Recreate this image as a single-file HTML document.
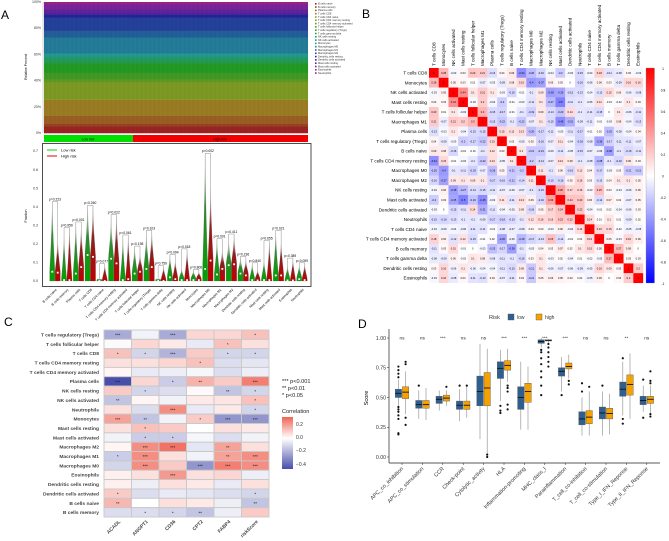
<!DOCTYPE html>
<html><head><meta charset="utf-8"><style>
body{margin:0;background:#fff}
svg{display:block;font-family:"Liberation Sans",sans-serif}
</style></head><body>
<svg id="fig" width="669" height="541" viewBox="0 0 669 541" xmlns="http://www.w3.org/2000/svg">
<text x="1" y="19" font-size="12">A</text>
<text x="362" y="18" font-size="12">B</text>
<text x="4" y="326" font-size="12">C</text>
<text x="358" y="328" font-size="12">D</text>
<g id="A"></g><g id="B"></g><g id="C"></g><g id="D"></g>
</svg>
<script>
const NS="http://www.w3.org/2000/svg";
function mk(p,t,a,txt){const e=document.createElementNS(NS,t);for(const k in a)e.setAttribute(k,a[k]);if(txt!==undefined)e.textContent=txt;p.appendChild(e);return e;}
// ---------- Panel A data ----------
const cellTypes=["B cells naive","B cells memory","Plasma cells","T cells CD8","T cells CD4 naive","T cells CD4 memory resting","T cells CD4 memory activated","T cells follicular helper","T cells regulatory (Tregs)","T cells gamma delta","NK cells resting","NK cells activated","Monocytes","Macrophages M0","Macrophages M1","Macrophages M2","Dendritic cells resting","Dendritic cells activated","Mast cells resting","Mast cells activated","Eosinophils","Neutrophils"];
const meanFrac=[0.05,0.02,0.06,0.12,0.005,0.13,0.02,0.05,0.07,0.01,0.03,0.02,0.015,0.12,0.05,0.1,0.02,0.01,0.03,0.04,0.005,0.01];
const pVals=["0.223","0.959","0.001","0.260","0.077","0.022","0.061","0.198","0.103","0.759","0.094","0.018","0.806","0.002","0.001","0.411","0.236","0.840","0.655","0.021","0.389","0.059"];
const lowMax=[0.42,0.24,0.31,0.40,0.01,0.33,0.23,0.18,0.25,0.01,0.135,0.065,0.055,0.68,0.22,0.215,0.125,0.09,0.11,0.265,0.08,0.085];
const highMax=[0.22,0.28,0.29,0.40,0.085,0.35,0.24,0.145,0.265,0.075,0.11,0.165,0.05,0.5,0.165,0.245,0.115,0.06,0.21,0.215,0.115,0.09];
const lowMed=[0.05,0.005,0.04,0.14,0,0.12,0.005,0.04,0.065,0,0.02,0.005,0.005,0.065,0.035,0.085,0.04,0.005,0.005,0.03,0.003,0.01];
const highMed=[0.045,0.005,0.075,0.13,0,0.095,0.01,0.05,0.075,0,0.01,0.005,0.005,0.11,0.065,0.09,0.03,0.003,0.005,0.03,0.003,0.005];
// ---------- Panel B data ----------
const bNames=["T cells CD8","Monocytes","NK cells activated","Mast cells resting","T cells follicular helper","Macrophages M1","Plasma cells","T cells regulatory (Tregs)","B cells naive","T cells CD4 memory resting","Macrophages M0","Macrophages M2","NK cells resting","Mast cells activated","Dendritic cells activated","Neutrophils","T cells CD4 naive","T cells CD4 memory activated","B cells memory","T cells gamma delta","Dendritic cells resting","Eosinophils"];
const corrB=[
[1,0.28,-0.03,0.03,0.23,0.21,-0.13,0.04,0.09,-0.44,-0.26,-0.16,-0.04,-0.2,-0.03,-0.15,-0.04,0.18,-0.11,-0.08,0.03,-0.03],
[0.28,1,0.05,0.03,0.01,-0.07,-0.03,-0.09,0.08,0.15,-0.4,-0.37,0.06,0.03,0,-0.16,-0.06,0.06,0.03,-0.09,0.16,0.16],
[-0.03,0.05,1,0.44,0.1,0.21,0.1,-0.03,-0.16,-0.01,-0.1,0.09,-0.38,-0.35,-0.15,-0.13,-0.04,-0.12,0.15,0.06,-0.06,-0.08],
[0.03,0.03,0.44,1,-0.03,0.2,-0.04,-0.2,-0.01,-0.03,-0.11,0.1,-0.27,-0.5,-0.11,-0.1,-0.06,0.12,-0.01,-0.02,0.1,0.03],
[0.23,0.01,0.1,-0.03,1,0.3,-0.15,-0.17,-0.01,-0.1,-0.19,0.09,-0.14,-0.23,0.14,-0.1,-0.11,-0.15,0,0.1,-0.06,-0.11],
[0.21,-0.07,0.21,0.2,0.3,1,-0.15,-0.22,-0.1,-0.22,-0.07,0.1,-0.15,-0.45,-0.31,-0.09,-0.11,-0.01,-0.03,0.08,-0.04,-0.13],
[-0.13,-0.03,0.1,-0.04,-0.15,-0.15,1,0.15,0.12,0.13,-0.26,-0.17,-0.11,-0.03,-0.11,-0.17,-0.01,0.02,-0.25,-0.08,-0.04,0.04],
[0.04,-0.09,-0.03,-0.2,-0.17,-0.22,0.15,1,0.03,-0.05,0.05,-0.16,-0.07,0.11,-0.04,-0.18,-0.08,-0.36,-0.17,-0.11,-0.11,-0.07],
[0.09,0.08,-0.16,-0.01,-0.01,-0.1,0.12,0.03,1,0.1,-0.21,-0.21,-0.06,-0.11,-0.05,-0.15,-0.07,-0.06,-0.38,-0.1,-0.15,-0.11],
[-0.44,0.15,-0.01,-0.03,-0.1,-0.22,0.13,-0.05,0.1,1,-0.2,-0.14,-0.07,0.13,0.09,-0.1,-0.08,-0.28,-0.1,-0.16,0.09,0.03],
[-0.26,-0.4,-0.1,-0.11,-0.19,-0.07,-0.26,0.05,-0.21,-0.2,1,0.11,-0.1,0.06,-0.16,0.12,0.04,-0.17,-0.03,0.03,-0.21,-0.21],
[-0.16,-0.37,0.09,0.1,0.09,0.1,-0.17,-0.16,-0.21,-0.14,0.11,1,-0.15,-0.16,0.05,0.16,0.03,-0.13,0.04,0.1,0.1,0.05],
[-0.04,0.06,-0.38,-0.27,-0.14,-0.15,-0.11,-0.07,-0.06,-0.07,-0.1,-0.15,1,0.36,0.17,0.16,-0.03,0.25,0.03,-0.03,-0.06,0.06],
[-0.2,0.03,-0.35,-0.5,-0.23,-0.45,-0.03,0.11,-0.11,0.13,0.06,-0.16,0.36,1,0.24,0.23,0.06,-0.14,0.07,0.02,-0.07,0.05],
[-0.03,0,-0.15,-0.11,0.14,-0.31,-0.11,-0.04,-0.05,0.09,-0.16,0.05,0.17,0.24,1,0.22,-0.04,-0.01,0.02,-0.04,-0.06,0.03],
[-0.15,-0.16,-0.13,-0.1,-0.1,-0.09,-0.17,-0.18,-0.15,-0.1,0.12,0.16,0.16,0.23,0.22,1,0.14,0.01,0.1,0.01,-0.09,0.02],
[-0.04,-0.06,-0.04,-0.06,-0.11,-0.11,-0.01,-0.08,-0.07,-0.08,0.04,0.03,-0.03,0.06,-0.04,0.14,1,0.16,0.15,-0.02,-0.05,-0.05],
[0.18,0.06,-0.12,0.12,-0.15,-0.01,0.02,-0.36,-0.06,-0.28,-0.17,-0.13,0.25,-0.14,-0.01,0.01,0.16,1,0.05,-0.03,0.16,0.06],
[-0.11,0.03,0.15,-0.01,0,-0.03,-0.25,-0.17,-0.38,-0.1,-0.03,0.04,0.03,0.07,0.02,0.1,0.15,0.05,1,0.27,0.09,0],
[-0.08,-0.09,0.06,-0.02,0.1,0.08,-0.08,-0.11,-0.1,-0.16,0.03,0.1,-0.03,0.02,-0.04,0.01,-0.02,-0.03,0.27,1,0.03,0.03],
[0.03,0.16,-0.06,0.1,-0.06,-0.04,-0.04,-0.11,-0.15,0.09,-0.21,0.1,-0.06,-0.07,-0.06,-0.09,-0.05,0.16,0.09,0.03,1,0.2],
[-0.03,0.16,-0.08,0.03,-0.11,-0.13,0.04,-0.07,-0.11,0.03,-0.21,0.05,0.06,0.05,0.03,0.02,-0.05,0.06,0,0.03,0.2,1]];
// ---------- Panel C data ----------
const cRows=["T cells regulatory (Tregs)","T cells follicular helper","T cells CD8","T cells CD4 memory resting","T cells CD4 memory activated","Plasma cells","NK cells resting","NK cells activated","Neutrophils","Monocytes","Mast cells resting","Mast cells activated","Macrophages M2","Macrophages M1","Macrophages M0","Eosinophils","Dendritic cells resting","Dendritic cells activated","B cells naive","B cells memory"];
const cCols=["ACADL","ANGPT1","CD36","CPT2","FABP4","riskScore"];
const corrC=[[-0.2,-0.03,-0.2,0.08,0.08,0.12],[-0.01,0.08,0.04,-0.05,0.12,0.06],[0.12,-0.1,-0.18,0.1,-0.1,-0.1],[0.06,0.06,0.08,0.12,-0.08,-0.06],[0.02,-0.05,-0.04,-0.02,-0.08,-0.04],[-0.42,0.08,-0.12,0.15,0.1,0.25],[0.1,-0.1,-0.08,0.01,-0.14,-0.1],[-0.14,0.02,-0.03,0.04,0.05,0.12],[0.06,-0.08,0.22,-0.05,0.04,-0.1],[0.18,-0.14,-0.03,0.1,-0.25,-0.25],[0.06,0.12,0.1,0,0.06,0.04],[-0.03,-0.12,-0.12,-0.02,-0.08,-0.03],[0.02,0.22,0.27,-0.06,0.18,0.06],[-0.12,0.22,0.06,-0.03,0.18,0.22],[-0.1,0.22,0.1,-0.25,0.25,0.22],[0.03,0.06,0.2,0.06,0.08,-0.04],[0.03,-0.04,0.06,0.04,-0.05,0.06],[0.1,-0.08,-0.05,-0.06,-0.08,-0.1],[0.14,0,0.06,0.04,-0.04,-0.14],[-0.08,-0.08,-0.1,-0.14,-0.04,0.1]];
const starsC=[["***","","***","","","*"],["","","","","*",""],["*","*","***","","*","*"],["","","","*","",""],["","","","","",""],["***","","*","**","","***"],["","*","","","**","*"],["**","","","","","*"],["","","***","","","*"],["***","**","","*","***","***"],["","*","","","",""],["","*","*","","",""],["","***","***","","**",""],["*","***","","","**","***"],["","***","","***","***","***"],["","","***","","",""],["","","","","",""],["*","","","","","*"],["**","","","","","**"],["","*","*","**","",""]];
// ---------- Panel D data ----------
const dCats=["APC_co_inhibition","APC_co_stimulation","CCR","Check-point","Cytolytic_activity","HLA","Inflammation-promoting","MHC_class_I","Parainflammation","T_cell_co-inhibition","T_cell_co-stimulation","Type_I_IFN_Reponse","Type_II_IFN_Reponse"];
const dSig=["ns","ns","***","ns","ns","***","***","***","***","ns","ns","**","ns"];
const lowStats=[[0.43,0.50,0.535,0.57,0.65],[0.32,0.41,0.44,0.475,0.56],[0.39,0.45,0.485,0.51,0.56],[0.30,0.40,0.435,0.47,0.57],[0.15,0.43,0.55,0.68,0.95],[0.47,0.66,0.745,0.80,0.90],[0.23,0.40,0.50,0.59,0.80],[0.92,0.955,0.97,0.985,1.0],[0.55,0.68,0.72,0.75,0.84],[0.18,0.27,0.32,0.38,0.50],[0.18,0.32,0.37,0.42,0.55],[0.35,0.51,0.57,0.63,0.80],[0.38,0.44,0.475,0.51,0.60]];
const highStats=[[0.36,0.49,0.545,0.59,0.72],[0.31,0.41,0.44,0.475,0.58],[0.43,0.47,0.495,0.52,0.56],[0.33,0.40,0.435,0.47,0.59],[0.03,0.43,0.58,0.71,0.91],[0.63,0.73,0.77,0.81,0.91],[0.23,0.46,0.55,0.62,0.76],[0.96,0.975,0.98,0.985,0.99],[0.66,0.74,0.76,0.79,0.86],[0.18,0.28,0.335,0.39,0.55],[0.19,0.32,0.365,0.41,0.53],[0.32,0.52,0.61,0.69,0.87],[0.37,0.45,0.485,0.51,0.60]];
const lowOut=[[0.2,0.19,0.32,0.35,0.38,0.4,0.42,0.67,0.7,0.73,0.76],[0.6],[],[0.6],[],[0.37,0.39,0.43],[],[0.52,0.6,0.67,0.72,0.78,0.83,0.88,0.9],[0.52],[0.55,0.62],[0.6],[0.28,0.32,0.83],[0.33,0.65]];
const highOut=[[0.27,0.33,0.78,0.8],[],[0.59],[0.6],[0.0,0.02],[0.4,0.44,0.55,0.58,0.6],[],[0.76,0.8,0.84,0.88,0.92,0.95],[0.61,0.64],[0.59],[],[],[0.34,0.36,0.62,0.64,0.72]];

// ================= Panel A top (stacked) =================
const A=document.getElementById('A');
const hues=cellTypes.map((c,i)=>`hsl(${Math.round(i*330/cellTypes.length)},62%,38%)`);
const ax0=44,ax1=308,ay0=133,ay1=2;
const ayS=v=>ay0-(ay0-ay1)*v;
const tot=meanFrac.reduce((a,b)=>a+b,0);
let cum=0;
cellTypes.forEach((c,i)=>{const f=meanFrac[i]/tot;
 const r=mk(A,'rect',{x:ax0,y:ayS(cum+f),width:ax1-ax0,height:(ay0-ay1)*f+0.3,fill:hues[i]});
 cum+=f;});
// vertical sample separators
for(let x=ax0;x<ax1;x+=1.3)mk(A,'line',{x1:x,x2:x,y1:ay1,y2:ay0,stroke:'#000','stroke-opacity':0.12,'stroke-width':0.4});
["0%","20%","40%","60%","80%","100%"].forEach((t,i)=>{const e=mk(A,'text',{x:41,y:ayS(i/5)+1,'font-size':3.5,'text-anchor':'end',fill:'#333'},t);});
mk(A,'line',{x1:43,x2:43,y1:ay1,y2:ay0,stroke:'#999','stroke-width':0.4});
{const e=mk(A,'text',{x:27,y:67,'font-size':3.5,'text-anchor':'middle',transform:'rotate(-90 27 67)'},'Relative Percent');}
cellTypes.forEach((c,i)=>{mk(A,'rect',{x:315,y:3+i*3.3,width:1.6,height:1.6,fill:hues[i]});const e=mk(A,'text',{x:318,y:4.6+i*3.3,'font-size':2.6,fill:'#333'},c);});
{const r=mk(A,'rect',{x:44,y:135,width:89,height:7,fill:'#00e000'});
 const r2=mk(A,'rect',{x:133,y:135,width:175,height:7,fill:'#f00000'});
 mk(A,'text',{x:88,y:140.5,'font-size':3.5,'text-anchor':'middle'},'Low risk');mk(A,'text',{x:220,y:140.5,'font-size':3.5,'text-anchor':'middle'},'High risk');}
// ================= Panel A bottom (violins) =================
const vy=v=>281-v*185.7;
{const r=mk(A,'rect',{x:42.5,y:143.5,width:268.5,height:143,fill:'none',stroke:'#222','stroke-width':0.8});}
for(let i=0;i<=7;i++){const e=mk(A,'text',{x:38,y:vy(i/10)+1.2,'font-size':3.6,'text-anchor':'end',fill:'#333'},(i/10).toFixed(1));}
{const e=mk(A,'text',{x:27,y:216,'font-size':3.6,'text-anchor':'middle',transform:'rotate(-90 27 216)'},'Fraction');}
mk(A,'line',{x1:47,x2:57,y1:150,y2:150,stroke:'#00dd00','stroke-width':1});mk(A,'line',{x1:47,x2:57,y1:156,y2:156,stroke:'#ee0000','stroke-width':1});
mk(A,'text',{x:61,y:151.5,'font-size':4},'Low risk');mk(A,'text',{x:61,y:157.5,'font-size':4},'High risk');
const defs=mk(A,'defs',{});
const gG=mk(defs,'linearGradient',{id:'gG',x1:0,y1:1,x2:0,y2:0});mk(gG,'stop',{offset:0,'stop-color':'#00a000'});mk(gG,'stop',{offset:0.6,'stop-color':'#2e8b2e'});mk(gG,'stop',{offset:1,'stop-color':'#ffffff'});
const gR=mk(defs,'linearGradient',{id:'gR',x1:0,y1:1,x2:0,y2:0});mk(gR,'stop',{offset:0,'stop-color':'#c00000'});mk(gR,'stop',{offset:0.6,'stop-color':'#8b2020'});mk(gR,'stop',{offset:1,'stop-color':'#ffffff'});
function violin(cx,max,med,fill,name){
 const y0=vy(0),yt=vy(max),ym=vy(med);
 const w=2.6;
 const d=`M${cx},${yt} C${cx+0.4},${(yt+ym)/2} ${cx+w},${ym-4} ${cx+w},${ym} L${cx+w},${y0} L${cx-w},${y0} L${cx-w},${ym} C${cx-w},${ym-4} ${cx-0.4},${(yt+ym)/2} ${cx},${yt}Z`;
 const p=mk(A,'path',{d,fill,stroke:'#555','stroke-width':0.2});
 mk(A,'rect',{x:cx-0.9,y:ym-0.9,width:1.8,height:1.8,fill:'#fff'});
}
cellTypes.forEach((c,i)=>{const cx=55+i*11.76;
 violin(cx-2.7,lowMax[i],lowMed[i],'url(#gG)','violin-low-'+i);
 violin(cx+2.7,highMax[i],highMed[i],'url(#gR)','violin-high-'+i);
 const top=vy(Math.max(lowMax[i],highMax[i]))-1.5;
 mk(A,'path',{d:`M${cx-2.7},${vy(lowMax[i])} V${top} H${cx+2.7} V${vy(highMax[i])}`,fill:'none',stroke:'#444','stroke-width':0.3});
 const t=mk(A,'text',{x:cx,y:top-1,'font-size':3.3,'text-anchor':'middle'},'p='+pVals[i]);
 const l=mk(A,'text',{x:cx+2,y:290,'font-size':3.3,'text-anchor':'end',transform:`rotate(-45 ${cx+2} 290)`},c);
});
// ================= Panel B =================
const B=document.getElementById('B');
function rb(v){v=Math.max(-1,Math.min(1,v));let r,g,b;if(v>=0){r=255;g=b=Math.round(255*(1-v));}else{b=255;r=g=Math.round(255*(1+v));}return `rgb(${r},${g},${b})`;}
const bx0=429,by0=68,bcw=9.73,bch=9.77;
bNames.forEach((n,i)=>{
 const e=mk(B,'text',{x:427,y:by0+i*bch+bch/2+1.6,'font-size':4.6,'text-anchor':'end'},n);
 const cx=bx0+i*bcw+bcw/2+1.5;const c=mk(B,'text',{x:cx,y:66,'font-size':4.6,transform:`rotate(-90 ${cx} 66)`},n);
 bNames.forEach((m,j)=>{const v=corrB[i][j];
  const r=mk(B,'rect',{x:bx0+j*bcw,y:by0+i*bch,width:bcw+0.1,height:bch+0.1,fill:rb(v)});
  mk(B,'text',{x:bx0+j*bcw+bcw/2,y:by0+i*bch+bch/2+1,'font-size':2.6,'text-anchor':'middle',fill:'#000'},v===1?'1':String(v).replace('0.','.').replace('-.','-0.').replace(/^\./,'0.'));
 });
});
const gB=mk(defs,'linearGradient',{id:'gB',x1:0,y1:0,x2:0,y2:1});mk(gB,'stop',{offset:0,'stop-color':'#ff0000'});mk(gB,'stop',{offset:0.5,'stop-color':'#ffffff'});mk(gB,'stop',{offset:1,'stop-color':'#0000ff'});
{const r=mk(B,'rect',{x:646,y:68,width:8.5,height:215,fill:'url(#gB)',stroke:'#888','stroke-width':0.3});}
["1","0.8","0.6","0.4","0.2","0","-0.2","-0.4","-0.6","-0.8","-1"].forEach((t,i)=>{mk(B,'text',{x:663,y:69+i*21.5+1,'font-size':3.2,'text-anchor':'middle'},t);});
// ================= Panel C =================
const C=document.getElementById('C');
function cc(v){const lo=[72,78,170],hi=[240,100,85];let t,c;if(v>=0){t=Math.min(1,v/0.3);c=hi;}else{t=Math.min(1,-v/0.42);c=lo;}
 return `rgb(${Math.round(255+(c[0]-255)*t)},${Math.round(255+(c[1]-255)*t)},${Math.round(255+(c[2]-255)*t)})`;}
const cx0=104,cy0=330,ccw=27.5,cch=9.35;
cRows.forEach((n,i)=>{
 const e=mk(C,'text',{x:99,y:cy0+i*cch+cch/2+1.8,'font-size':4.9,'text-anchor':'end',fill:'#444','font-weight':'bold'},n);
 cCols.forEach((m,j)=>{const r=mk(C,'rect',{x:cx0+j*ccw,y:cy0+i*cch,width:ccw,height:cch,fill:cc(corrC[i][j]),stroke:'#c8c8c8','stroke-width':0.9});
  if(starsC[i][j])mk(C,'text',{x:cx0+j*ccw+ccw/2,y:cy0+i*cch+cch/2+2,'font-size':4.5,'text-anchor':'middle',fill:'#222'},starsC[i][j]);});
});
cCols.forEach((m,j)=>{const x=cx0+j*ccw+ccw/2+3;const e=mk(C,'text',{x,y:522,'font-size':4.9,'text-anchor':'end',fill:'#444','font-weight':'bold',transform:`rotate(-45 ${x} 522)`},m);});
[["*** p<0.001",383],["** p<0.01",390],["* p<0.05",397]].forEach(([t,y])=>{const e=mk(C,'text',{x:282,y,'font-size':5.6,fill:'#222'},t);});
mk(C,'text',{x:282,y:413,'font-size':5.6,fill:'#222'},'Correlation');
const gC=mk(defs,'linearGradient',{id:'gC',x1:0,y1:0,x2:0,y2:1});mk(gC,'stop',{offset:0,'stop-color':cc(0.3)});mk(gC,'stop',{offset:0.41,'stop-color':'#fff'});mk(gC,'stop',{offset:1,'stop-color':cc(-0.42)});
{const r=mk(C,'rect',{x:282,y:417,width:11,height:52,fill:'url(#gC)'});}
[["0.2",426],["0.0",439],["\u22120.2",452],["\u22120.4",466]].forEach(([t,y])=>mk(C,'text',{x:296,y,'font-size':5,fill:'#333'},t));
// ================= Panel D =================
const D=document.getElementById('D');
const dy=v=>457-v*119;
mk(D,'line',{x1:389,x2:389,y1:329,y2:463,stroke:'#222','stroke-width':0.7});
mk(D,'line',{x1:389,x2:660,y1:463,y2:463,stroke:'#222','stroke-width':0.7});
["0.00","0.25","0.50","0.75","1.00"].forEach((t,i)=>{const v=i*0.25;mk(D,'line',{x1:387,x2:389,y1:dy(v),y2:dy(v),stroke:'#222','stroke-width':0.5});const e=mk(D,'text',{x:386,y:dy(v)+1.8,'font-size':5.2,'text-anchor':'end',fill:'#333'},t);});
{const e=mk(D,'text',{x:368,y:398,'font-size':5.6,'text-anchor':'middle',transform:'rotate(-90 368 398)'},'Score');}
function box(cx,s,out,fill,name){
 mk(D,'line',{x1:cx,x2:cx,y1:dy(s[0]),y2:dy(s[4]),stroke:'#888','stroke-width':0.6});
 const r=mk(D,'rect',{x:cx-3.2,y:dy(s[3]),width:6.4,height:dy(s[1])-dy(s[3]),fill,stroke:'#555','stroke-width':0.4});
 mk(D,'line',{x1:cx-3.2,x2:cx+3.2,y1:dy(s[2]),y2:dy(s[2]),stroke:'#111','stroke-width':0.9});
 out.forEach(v=>mk(D,'circle',{cx,cy:dy(v),r:1.1,fill:'#111'}));
}
dCats.forEach((c,i)=>{const cx=402+i*20.4;
 mk(D,'line',{x1:cx,x2:cx,y1:463,y2:465,stroke:'#222','stroke-width':0.5});
 box(cx-3.6,lowStats[i],lowOut[i],'#2f5f8f','box-low-'+i);
 box(cx+3.6,highStats[i],highOut[i],'#f5a200','box-high-'+i);
 const s=mk(D,'text',{x:cx,y:339.5,'font-size':4.8,'text-anchor':'middle',fill:'#333'},dSig[i]);
 const l=mk(D,'text',{x:cx+1.5,y:469,'font-size':5.4,'text-anchor':'end',fill:'#333',transform:`rotate(-45 ${cx+1.5} 469)`},c);
});
mk(D,'text',{x:489,y:319,'font-size':5.6,fill:'#333'},'Risk');
{const r=mk(D,'rect',{x:508,y:314,width:6,height:6,fill:'#2f5f8f',stroke:'#555','stroke-width':0.4});
 mk(D,'text',{x:517,y:319,'font-size':5,fill:'#333'},'low');
 const r2=mk(D,'rect',{x:536,y:314,width:6,height:6,fill:'#f5a200',stroke:'#555','stroke-width':0.4});
 mk(D,'text',{x:545,y:319,'font-size':5,fill:'#333'},'high');}
</script>
</body></html>
